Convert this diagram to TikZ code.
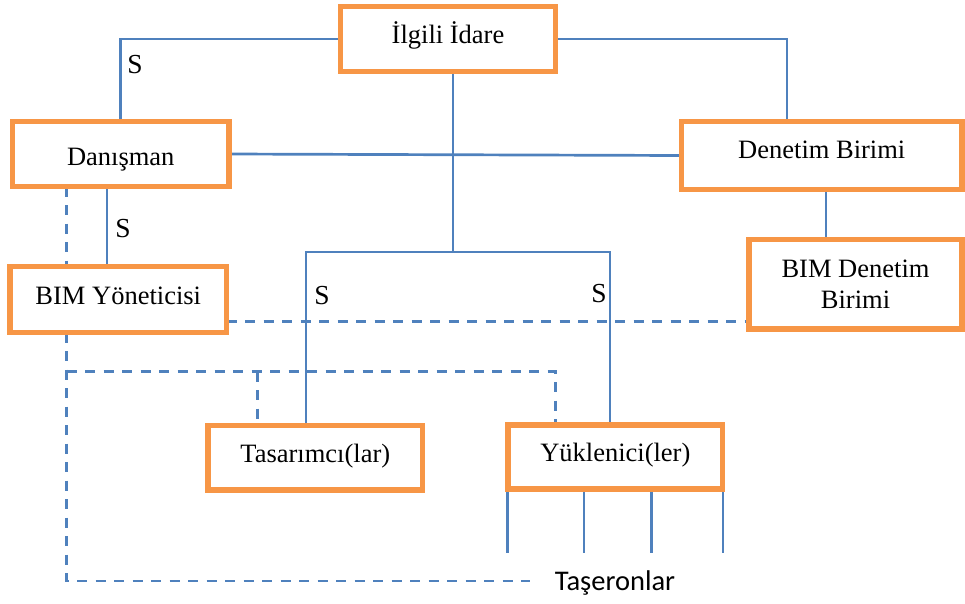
\documentclass[tikz,border=0pt]{standalone}
\usepackage{fontspec}
\setmainfont{Liberation Serif}
\newfontfamily\labelsans{Carlito}
\begin{document}
\pgfdeclarelayer{wires}
\pgfsetlayers{wires,main}
\definecolor{boxorange}{HTML}{F79646}
\definecolor{linkblue}{HTML}{4F81BD}
\begin{tikzpicture}[x=1pt,y=-1pt,
  unit/.style={draw=boxorange, line width=5.5pt, fill=white, inner sep=0pt,
    outer sep=0pt, align=center, font=\fontsize{26.5}{31.5}\selectfont,
    text height=18pt, text depth=9pt},
  link/.style={draw=linkblue, line width=2.7pt},
  dlink/.style={draw=linkblue, line width=2.7pt, dash pattern=on 10pt off 8.5pt},
  slabel/.style={inner sep=0pt, font=\fontsize{27.5}{30}\selectfont}]
\useasboundingbox (0,0) rectangle (965,603);

% organisation units
\node[unit, minimum width=215pt,   minimum height=65pt]   (idare)     at (448,39)      {İlgili İdare};
\node[unit, minimum width=216.5pt, minimum height=65pt, text height=26pt, text depth=4pt]
                                                          (danisman)  at (120.75,154)  {Danışman};
\node[unit, minimum width=280.5pt, minimum height=68pt, text height=16pt, text depth=10.4pt]
                                                          (denetim)   at (821.75,155.5){Denetim Birimi};
\node[unit, minimum width=216.5pt, minimum height=66pt]   (yonetici)  at (118.25,299.5){BIM Yöneticisi};
\node[unit, minimum width=213pt,   minimum height=89.7pt, text height=, text depth=]
                                                          (bimden)    at (855.5,284.2) {BIM Denetim\\Birimi};
\node[unit, minimum width=214.7pt, minimum height=64.5pt] (tasarim)   at (315.3,457.7) {Tasarımcı(lar)};
\node[unit, minimum width=214.7pt, minimum height=64pt]   (yuklenici) at (615.3,457)   {Yüklenici(ler)};
\node[inner sep=0pt, anchor=base, font=\labelsans\fontsize{28.5}{30}\selectfont] (taseron) at (615,590) {Taşeronlar};

% contract labels
\node[slabel] (s1) at (135,64.5) {S};
\node[slabel] (s2) at (123,229)  {S};
\node[slabel] (s3) at (322,295.5){S};
\node[slabel] (s4) at (599,293.5){S};

% routing points
\coordinate (dr)   at (787,0);
\coordinate (busM) at (453,252);
\coordinate (busL) at (306,252);
\coordinate (busR) at (610,252);
\coordinate (dv)   at (826,0);
\coordinate (sv)   at (107,0);
\coordinate (dl)   at (66.5,0);
\coordinate (dlc)  at (66.5,581);
\coordinate (dend) at (530,581);
\coordinate (dh)   at (0,321.7);
\coordinate (gL)   at (66.5,371.7);
\coordinate (gM)   at (257.7,371.7);
\coordinate (gR)   at (555.7,371.7);
\coordinate (t1)   at (507.5,552.7);
\coordinate (t2)   at (584,552.7);
\coordinate (t3)   at (651.3,552.7);
\coordinate (t4)   at (723,552.7);

\begin{pgfonlayer}{wires}
% solid reporting lines
\draw[link] (idare.west) -| (danisman.north);
\draw[link] (idare.east) -| (denetim.north -| dr);
\draw[link] (idare.south -| busM) -- (busM);
\draw[link] (tasarim.north -| busL) -- (busL) -- (busR) -- (yuklenici.north -| busR);
\draw[link] (danisman.east) -- (denetim.west);
\draw[link] (denetim.south -| dv) -- (bimden.north -| dv);
\draw[link] (danisman.south -| sv) -- (yonetici.north -| sv);
\foreach \t in {t1,t2,t3,t4}
  \draw[link] (yuklenici.south -| \t) -- (\t);

% dashed coordination lines
\draw[dlink] (danisman.south -| dl) -- (yonetici.north -| dl);
\draw[dlink] (yonetici.south -| dl) -- (dlc) -- (dend);
\draw[dlink] (gL) -- (gR) -- (yuklenici.north -| gR);
\draw[dlink] (gM) -- (tasarim.north -| gM);
\draw[dlink] (yonetici.east |- dh) -- (bimden.west |- dh);
\end{pgfonlayer}
\end{tikzpicture}
\end{document}
